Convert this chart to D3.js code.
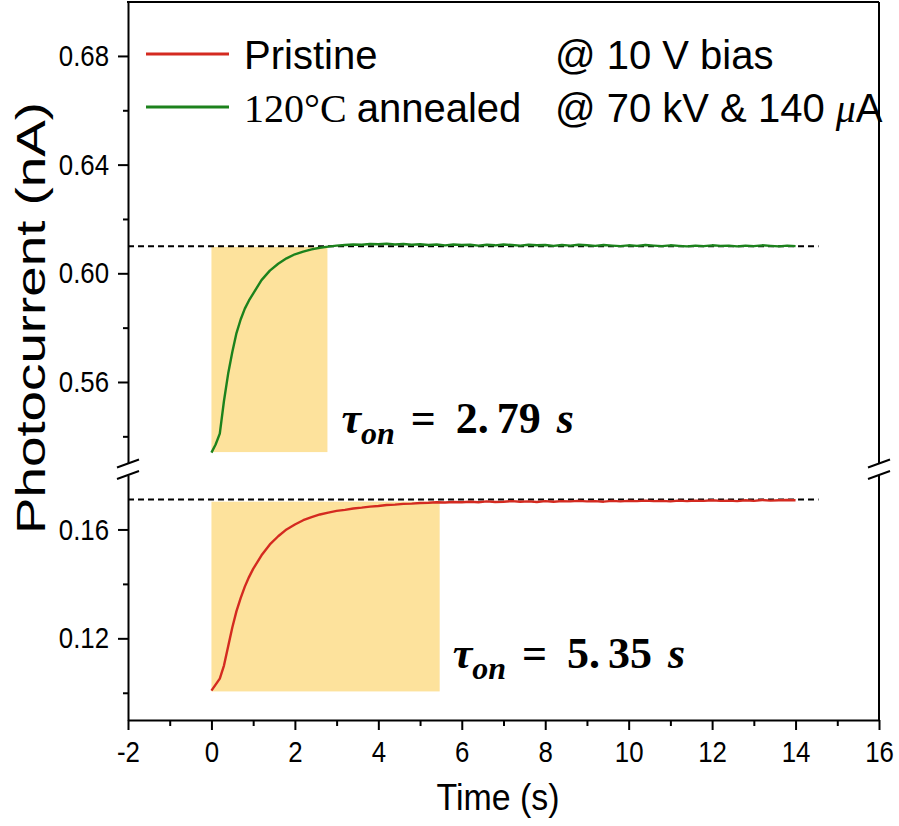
<!DOCTYPE html>
<html>
<head>
<meta charset="utf-8">
<script src="https://cdn.jsdelivr.net/npm/d3@7"></script>
<style>
    body { margin: 0; background: #fff; }
    svg { display: block; }
</style>
</head>
<body>
<script>

// DATA
// time points (s), shared by both series
const times = [
    0, 0.1, 0.2, 0.3, 0.4, 0.5, 0.6, 0.7, 0.8, 0.9, 1.0,
    1.2, 1.4, 1.6, 1.8, 2.0, 2.2, 2.4, 2.6, 2.8, 3.0,
    3.2, 3.4, 3.6, 3.8, 4.0, 4.2, 4.4, 4.6, 4.8, 5.0,
    5.2, 5.4, 5.6, 5.8, 6.0, 6.2, 6.4, 6.6, 6.8, 7.0,
    7.2, 7.4, 7.6, 7.8, 8.0, 8.2, 8.4, 8.6, 8.8, 9.0,
    9.2, 9.4, 9.6, 9.8, 10.0, 10.2, 10.4, 10.6, 10.8, 11.0,
    11.2, 11.4, 11.6, 11.8, 12.0, 12.2, 12.4, 12.6, 12.8, 13.0,
    13.2, 13.4, 13.6, 13.8, 14.0
];

// 120 C annealed photocurrent (nA)
const annealed = [
    0.5340, 0.5370, 0.5410, 0.5530, 0.5630, 0.5710, 0.5780, 0.5830, 0.5870, 0.5900, 0.5925,
    0.5975, 0.6010, 0.6035, 0.6055, 0.6070, 0.6080, 0.6088, 0.6094, 0.6098, 0.6102,
    0.6104, 0.6106, 0.6105, 0.6108, 0.6107, 0.6109, 0.6106, 0.6108, 0.6105, 0.6107,
    0.6104, 0.6106, 0.6103, 0.6106, 0.6104, 0.6105, 0.6102, 0.6105, 0.6103, 0.6106,
    0.6104, 0.6102, 0.6105, 0.6103, 0.6104, 0.6101, 0.6104, 0.6102, 0.6105, 0.6103,
    0.6101, 0.6104, 0.6102, 0.6100, 0.6103, 0.6101, 0.6104, 0.6102, 0.6100, 0.6103,
    0.6101, 0.6099, 0.6102, 0.6100, 0.6103, 0.6101, 0.6102, 0.6099, 0.6102, 0.6100,
    0.6103, 0.6101, 0.6099, 0.6102, 0.6100
];

// pristine photocurrent (nA)
const pristine = [
    0.1008, 0.1030, 0.1052, 0.1100, 0.1170, 0.1240, 0.1300, 0.1348, 0.1390, 0.1425, 0.1455,
    0.1505, 0.1545, 0.1575, 0.1600, 0.1618, 0.1634, 0.1645, 0.1655, 0.1662, 0.1668,
    0.1672, 0.1677, 0.1680, 0.1684, 0.1686, 0.1690, 0.1691, 0.1694, 0.1695, 0.1697,
    0.1698, 0.1700, 0.1699, 0.1701, 0.1700, 0.1702, 0.1700, 0.1703, 0.1701, 0.1702,
    0.1704, 0.1702, 0.1703, 0.1701, 0.1704, 0.1702, 0.1704, 0.1703, 0.1705, 0.1703,
    0.1704, 0.1702, 0.1705, 0.1703, 0.1705, 0.1704, 0.1706, 0.1704, 0.1705, 0.1703,
    0.1706, 0.1704, 0.1706, 0.1705, 0.1707, 0.1705, 0.1706, 0.1704, 0.1707, 0.1705,
    0.1708, 0.1706, 0.1707, 0.1708, 0.1707
];

// saturation levels (dashed lines) and shaded rise windows
const saturation = { annealed: 0.6100, pristine: 0.1710 };
const dashEnd = 14.55;
const riseAnnealed = { t0: 0, t1: 2.78, low: 0.5342, high: 0.6097 };
const risePristine = { t0: 0, t1: 5.47, low: 0.1005, high: 0.1702 };
const tauLabels = ["2.79", "5.35"];

// tick values
const xMajor = [-2, 0, 2, 4, 6, 8, 10, 12, 14, 16];
const xMinor = [-1, 1, 3, 5, 7, 9, 11, 13, 15];
const yTopMajor = [0.56, 0.60, 0.64, 0.68];
const yTopMinor = [0.54, 0.58, 0.62, 0.66];
const yBotMajor = [0.12, 0.16];
const yBotMinor = [0.10, 0.14];

const legendItems = [
    { name: "Pristine", color: "#d42a20" },
    { name: "annealed", color: "#1c821c" }
];

// LAYOUT
const W = 899, H = 826;
const plot = { left: 128, right: 879, top: 2, bottom: 720 };
// the y axis is broken: upper and lower segments
const breakTop = 463.5, breakBot = 475;

const sans = "'Liberation Sans', Arial, sans-serif";
const serif = "'Liberation Serif', 'Times New Roman', serif";

const svg = d3.select("body")
    .append("svg")
    .attr("width", W)
    .attr("height", H);

// SCALES
const x = d3.scaleLinear()
    .domain([-2, 16])
    .range([plot.left, plot.right]);

const yTop = d3.scaleLinear()
    .domain([0.53, 0.70])
    .range([breakTop, plot.top - 0.4]);

const yBot = d3.scaleLinear()
    .domain([0.09, 0.18])
    .range([plot.bottom, breakBot]);

// SHADED RISE WINDOWS
const shade = "#fde29c";
svg.append("rect")
    .attr("x", x(riseAnnealed.t0))
    .attr("y", yTop(riseAnnealed.high))
    .attr("width", x(riseAnnealed.t1) - x(riseAnnealed.t0))
    .attr("height", yTop(riseAnnealed.low) - yTop(riseAnnealed.high))
    .attr("fill", shade);

svg.append("rect")
    .attr("x", x(risePristine.t0))
    .attr("y", yBot(risePristine.high))
    .attr("width", x(risePristine.t1) - x(risePristine.t0))
    .attr("height", yBot(risePristine.low) - yBot(risePristine.high))
    .attr("fill", shade);

// DASHED SATURATION LINES
svg.append("line")
    .attr("x1", x(-2)).attr("x2", x(dashEnd))
    .attr("y1", yTop(saturation.annealed)).attr("y2", yTop(saturation.annealed))
    .attr("stroke", "#000")
    .attr("stroke-width", 2)
    .attr("stroke-dasharray", "6,4");

svg.append("line")
    .attr("x1", x(-2)).attr("x2", x(dashEnd))
    .attr("y1", yBot(saturation.pristine)).attr("y2", yBot(saturation.pristine))
    .attr("stroke", "#000")
    .attr("stroke-width", 2)
    .attr("stroke-dasharray", "6,4");

// CURVES
const lineTop = d3.line()
    .x((d, i) => x(times[i]))
    .y(d => yTop(d));

const lineBot = d3.line()
    .x((d, i) => x(times[i]))
    .y(d => yBot(d));

svg.append("path")
    .datum(annealed)
    .attr("d", lineTop)
    .attr("fill", "none")
    .attr("stroke", legendItems[1].color)
    .attr("stroke-width", 2.4)
    .attr("stroke-linejoin", "round");

svg.append("path")
    .datum(pristine)
    .attr("d", lineBot)
    .attr("fill", "none")
    .attr("stroke", legendItems[0].color)
    .attr("stroke-width", 2.4)
    .attr("stroke-linejoin", "round");

// AXES
// squeeze tick labels horizontally, the original uses a condensed face
function styleAxis(g) {
    g.selectAll("path, line")
        .attr("stroke", "#000")
        .attr("stroke-width", 2);
    g.selectAll("text")
        .attr("fill", "#000")
        .style("font-family", sans)
        .style("font-size", "30px")
        .each(function () {
            const w = this.getComputedTextLength();
            if (w > 0) {
                d3.select(this)
                    .attr("textLength", w * 0.86)
                    .attr("lengthAdjust", "spacingAndGlyphs");
            }
        });
}

// x axis, major with labels then minor without
svg.append("g")
    .attr("transform", `translate(0, ${plot.bottom})`)
    .call(d3.axisBottom(x).tickValues(xMajor).tickSize(10).tickSizeOuter(0).tickPadding(11).tickFormat(d => String(d)))
    .call(styleAxis);

svg.append("g")
    .attr("transform", `translate(0, ${plot.bottom})`)
    .call(d3.axisBottom(x).tickValues(xMinor).tickSize(6).tickFormat(""))
    .call(g => g.select(".domain").remove())
    .call(styleAxis);

// y axis, upper and lower segments
const fmtY = d3.format(".2f");
[[yTop, yTopMajor, yTopMinor], [yBot, yBotMajor, yBotMinor]].forEach(([scale, major, minor]) => {
    svg.append("g")
        .attr("transform", `translate(${plot.left}, 0)`)
        .call(d3.axisLeft(scale).tickValues(major).tickSize(10).tickSizeOuter(0).tickPadding(9).tickFormat(fmtY))
        .call(styleAxis);

    svg.append("g")
        .attr("transform", `translate(${plot.left}, 0)`)
        .call(d3.axisLeft(scale).tickValues(minor).tickSize(5).tickFormat(""))
        .call(g => g.select(".domain").remove())
        .call(styleAxis);
});

// frame: top and right edges (right edge also broken)
const frame = svg.append("g")
    .attr("stroke", "#000")
    .attr("stroke-width", 2);

frame.append("line")
    .attr("x1", plot.left - 1).attr("x2", plot.right)
    .attr("y1", plot.top).attr("y2", plot.top);

frame.append("line")
    .attr("x1", plot.right).attr("x2", plot.right)
    .attr("y1", plot.top).attr("y2", breakTop);

frame.append("line")
    .attr("x1", plot.right).attr("x2", plot.right)
    .attr("y1", breakBot).attr("y2", plot.bottom);

// break marks on both vertical edges
[plot.left, plot.right].forEach(bx => {
    [breakTop, breakBot].forEach(by => {
        frame.append("line")
            .attr("x1", bx - 11).attr("y1", by + 4)
            .attr("x2", bx + 11).attr("y2", by - 4);
    });
});

// AXIS TITLES
svg.append("text")
    .attr("x", 498)
    .attr("y", 810)
    .attr("text-anchor", "middle")
    .style("font-family", sans)
    .style("font-size", "36px")
    .attr("textLength", 123)
    .attr("lengthAdjust", "spacingAndGlyphs")
    .text("Time (s)");

svg.append("text")
    .attr("transform", `translate(45, 318) rotate(-90)`)
    .attr("text-anchor", "middle")
    .style("font-family", sans)
    .style("font-size", "41px")
    .attr("textLength", 432)
    .attr("lengthAdjust", "spacingAndGlyphs")
    .text("Photocurrent (nA)");

// LEGEND
const legendY = [54, 107];
const legendFont = "40px";
legendItems.forEach((item, i) => {
    svg.append("line")
        .attr("x1", 146).attr("x2", 229)
        .attr("y1", legendY[i]).attr("y2", legendY[i])
        .attr("stroke", item.color)
        .attr("stroke-width", 3);
});

svg.append("text")
    .attr("x", 244).attr("y", legendY[0] + 15)
    .style("font-family", sans)
    .style("font-size", legendFont)
    .text(legendItems[0].name);

const leg2 = svg.append("text")
    .attr("x", 244).attr("y", legendY[1] + 15)
    .style("font-size", legendFont);
leg2.append("tspan").style("font-family", serif).text("120°C ");
leg2.append("tspan").style("font-family", sans).text(legendItems[1].name);

// measurement conditions
svg.append("text")
    .attr("x", 555).attr("y", legendY[0] + 15)
    .style("font-family", sans)
    .style("font-size", legendFont)
    .text("@ 10 V bias");

const cond = svg.append("text")
    .attr("x", 555).attr("y", legendY[1] + 15)
    .style("font-family", sans)
    .style("font-size", legendFont);
cond.append("tspan").text("@ 70 kV & 140 ");
cond.append("tspan").style("font-family", serif).style("font-style", "italic").text("μ");
cond.append("tspan").text("A");

// TIME CONSTANT LABELS
function tauLabel(px, py, value) {
    const t = svg.append("text")
        .attr("x", px).attr("y", py)
        .style("font-family", serif)
        .style("font-weight", "bold")
        .style("font-size", "44px");
    t.append("tspan").style("font-style", "italic").text("τ");
    t.append("tspan").style("font-style", "italic").style("font-size", "32px").attr("dy", 11).text("on");
    t.append("tspan").attr("dy", -11).attr("dx", 16).text("=");
    const parts = value.split(".");
    t.append("tspan").attr("dx", 20).text(parts[0] + ".");
    t.append("tspan").attr("dx", 8).text(parts[1]);
    t.append("tspan").attr("dx", 16).style("font-style", "italic").text("s");
}

tauLabel(x(riseAnnealed.t1) + 14, 433, tauLabels[0]);
tauLabel(x(risePristine.t1) + 13, 668, tauLabels[1]);

</script>
</body>
</html>
